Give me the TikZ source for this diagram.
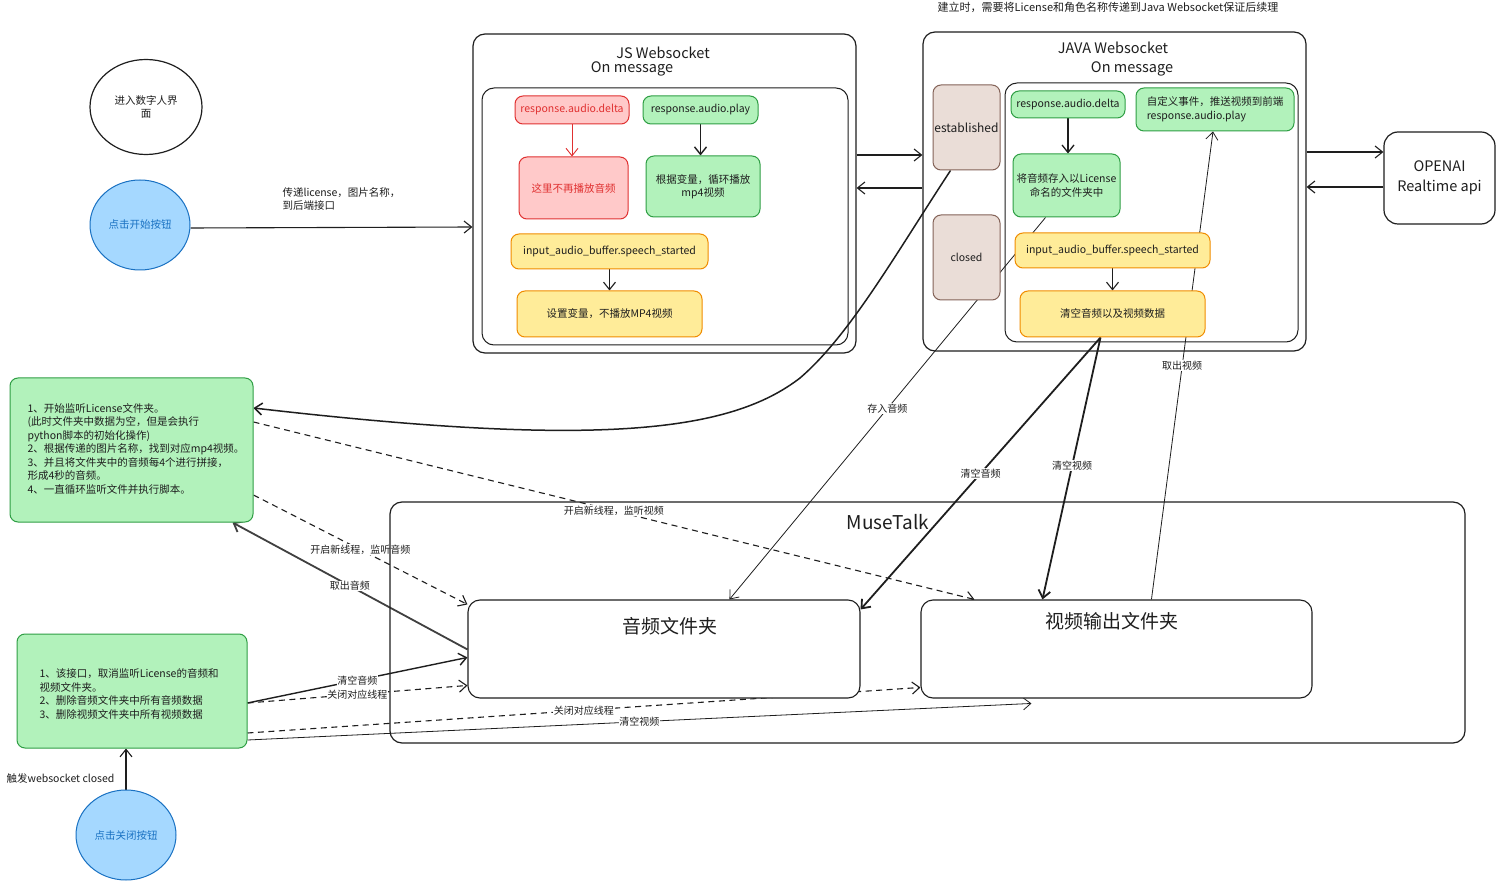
\documentclass[tikz,border=0pt]{standalone}
\usepackage{fontspec}
\setmainfont{Noto Sans CJK SC}
\usetikzlibrary{arrows.meta,shapes.geometric,calc}
\pgfdeclarelayer{bg}
\pgfdeclarelayer{paper}
\pgfsetlayers{paper,bg,main}
\definecolor{cInk}{HTML}{1E1E1E}
\definecolor{cRedS}{HTML}{E03131}
\definecolor{cRedF}{HTML}{FFC9C9}
\definecolor{cGrS}{HTML}{2F9E44}
\definecolor{cGrF}{HTML}{B2F2BB}
\definecolor{cYeS}{HTML}{F08C00}
\definecolor{cYeF}{HTML}{FFEC99}
\definecolor{cBrS}{HTML}{846358}
\definecolor{cBrF}{HTML}{EADDD7}
\definecolor{cBlS}{HTML}{1971C2}
\definecolor{cBlF}{HTML}{A5D8FF}
\begin{document}
\begin{tikzpicture}[x=1pt,y=-1pt,
  every node/.style={text=cInk, font=\fontsize{10.5}{13.5}\selectfont},
  box/.style={draw, rounded corners=8pt, line width=1pt, align=center, inner sep=2pt},
  redbox/.style={box, draw=cRedS, fill=cRedF, text=cRedS},
  greenbox/.style={box, draw=cGrS, fill=cGrF},
  yelbox/.style={box, draw=cYeS, fill=cYeF},
  brownbox/.style={box, draw=cBrS, fill=cBrF, font=\fontsize{12}{14}\selectfont},
  bluecirc/.style={ellipse, draw=cBlS, fill=cBlF, text=cBlS, line width=1pt, inner sep=0pt},
  frame/.style={draw=cInk, rounded corners=12pt, line width=1.2pt, inner sep=0pt},
  titletxt/.style={font=\fontsize{14.5}{16}\selectfont},
  bigtitle/.style={font=\fontsize{19}{21}\selectfont},
  conn/.style={draw=cInk, line width=1.1pt, -{Straight Barb[length=7.5pt,width=12pt]}},
  thickconn/.style={conn, line width=1.8pt},
  thinconn/.style={conn, line width=0.8pt},
  dashline/.style={dash pattern=on 6pt off 4.5pt},
  lbl/.style={fill=white, inner sep=0.8pt, font=\fontsize{10}{11}\selectfont}
]
\begin{pgfonlayer}{paper}
\fill[white] (0,0) rectangle (1505,890);
\end{pgfonlayer}
\useasboundingbox (0,0) rectangle (1505,890);

% caption
\node[font=\fontsize{11}{13}\selectfont] (cap) at (1108,7) {建立时，需要将License和角色名称传递到Java Websocket保证后续理};

% left ellipses
\node[ellipse, draw=cInk, line width=1.2pt, minimum width=112, minimum height=95, align=center, inner sep=0pt] (enter) at (146,107) {进入数字人界\\面};
\node[bluecirc, minimum width=100, minimum height=90] (start) at (140,225) {点击开始按钮};
\node[bluecirc, minimum width=100, minimum height=90] (close) at (126,835) {点击关闭按钮};
\node[align=left, anchor=west] (passlbl) at (279,199) {传递license，图片名称，\\到后端接口};

% JS Websocket
\node[frame, minimum width=383, minimum height=319] (js) at (664.5,193.5) {};
\node[titletxt] (jst) at (663,53) {JS Websocket};
\node[titletxt] (jsm) at (632,69) {On message};
\node[frame, line width=1pt, minimum width=366, minimum height=257] (jsin) at (665,216.5) {};
\node[redbox, minimum width=114, minimum height=28] (jd) at (572,110) {response.audio.delta};
\node[redbox, minimum width=109, minimum height=62] (jn) at (573.5,188) {这里不再播放音频};
\node[greenbox, minimum width=115, minimum height=28] (jp) at (700.5,110) {response.audio.play};
\node[greenbox, minimum width=114, minimum height=61] (jv) at (703,186.5) {根据变量，循环播放\\mp4视频};
\node[yelbox, minimum width=197, minimum height=35] (ji) at (609.5,251.5) {input\_audio\_buffer.speech\_started};
\node[yelbox, minimum width=185, minimum height=46] (jset) at (609.5,314) {设置变量，不播放MP4视频};

% JAVA Websocket
\node[frame, minimum width=383, minimum height=319] (java) at (1114.5,191.5) {};
\node[titletxt] (jvt) at (1113,48) {JAVA Websocket};
\node[titletxt] (jvm) at (1132,69) {On message};
\node[frame, line width=1pt, minimum width=293, minimum height=259] (javain) at (1151.5,212.5) {};
\node[brownbox, minimum width=67, minimum height=85, inner sep=0pt] (est) at (966.5,127.5) {established};
\node[brownbox, minimum width=67, minimum height=85, font=\fontsize{10.5}{13}\selectfont] (clo) at (966.5,257.5) {closed};
\node[greenbox, minimum width=114, minimum height=27] (kd) at (1068,104.5) {response.audio.delta};
\node[greenbox, minimum width=158, minimum height=43, align=left] (kc) at (1215,109.5) {自定义事件，推送视频到前端\\response.audio.play};
\node[greenbox, minimum width=107, minimum height=63] (ks) at (1066.5,185.5) {将音频存入以License\\命名的文件夹中};
\node[yelbox, minimum width=195, minimum height=35] (ki) at (1112.5,250.5) {input\_audio\_buffer.speech\_started};
\node[yelbox, minimum width=185, minimum height=46] (kq) at (1112.5,314) {清空音频以及视频数据};

% OPENAI
\node[box, draw=cInk, line width=1.2pt, rounded corners=14pt, minimum width=111, minimum height=92, font=\fontsize{14.5}{20}\selectfont] (oa) at (1439.5,178) {OPENAI\\Realtime api};

% left green boxes
\node[greenbox, minimum width=243, minimum height=144] (lg) at (131.5,450) {};
\node[align=left, anchor=west] (lgt) at (24,449) {1、开始监听License文件夹。\\(此时文件夹中数据为空，但是会执行\\python脚本的初始化操作)\\2、根据传递的图片名称，找到对应mp4视频。\\3、并且将文件夹中的音频每4个进行拼接，\\形成4秒的音频。\\4、一直循环监听文件并执行脚本。};
\node[greenbox, minimum width=230, minimum height=114] (lb) at (132,691) {};
\node[align=left, anchor=west] (lbt) at (36,694) {1、该接口，取消监听License的音频和\\视频文件夹。\\2、删除音频文件夹中所有音频数据\\3、删除视频文件夹中所有视频数据};

% MuseTalk
\node[frame, minimum width=1075, minimum height=241] (mt) at (927.5,622.5) {};
\node[font=\fontsize{19}{21}\selectfont] (mtt) at (888,522) {MuseTalk};
\node[frame, fill=white, line width=1.1pt, minimum width=392, minimum height=98] (af) at (664,649) {};
\node[bigtitle] (aft) at (670,626) {音频文件夹};
\node[frame, fill=white, line width=1.1pt, minimum width=391, minimum height=98] (vf) at (1116.5,649) {};
\node[bigtitle] (vft) at (1112,621) {视频输出文件夹};

\node[anchor=east] (trig) at (118,779) {触发websocket closed};

\begin{pgfonlayer}{bg}
% start -> JS
\draw[conn] ([yshift=-3pt]start.east) -- (js.west |- 0,227);
% JS <-> JAVA
\draw[conn] (js.east |- 0,155) -- (java.west |- 0,155);
\draw[conn] (java.west |- 0,188) -- (js.east |- 0,188);
% JAVA <-> OPENAI
\draw[conn] (java.east |- 0,152) -- (oa.west |- 0,152);
\draw[conn] (oa.west |- 0,187) -- (java.east |- 0,187);
% inner arrows
\draw[conn, draw=cRedS, line width=0.9pt] (jd.south) -- (jd.south |- jn.north);
\draw[conn, line width=1.4pt] (jp.south) -- (jp.south |- jv.north);
\draw[conn] (ji.south) -- (ji.south |- jset.north);
\draw[conn, line width=1.3pt] (kd.south) -- (kd.south |- ks.north);
\draw[conn] (ki.south) -- (ki.south |- kq.north);
% established -> left green box
\draw[conn, line width=1.5pt] ([xshift=-16pt]est.south) .. controls (895,255) and (850,335) .. (800,378) .. controls (730,432) and (600,448) .. (lg.east |- 0,408);
% store audio
\draw[thinconn] ([xshift=-21pt]ks.south) -- ([xshift=262pt]af.north west) node[lbl, pos=0.5] {存入音频};
% clear audio / video
\draw[thickconn] ([xshift=-12pt]kq.south) -- ([yshift=-10pt]af.north east) node[lbl, pos=0.5] {清空音频};
\draw[thickconn] ([xshift=-12pt]kq.south) -- ([xshift=122pt]vf.north west) node[lbl, pos=0.49] {清空视频};
% take video
\draw[thinconn] ([xshift=231pt]vf.north west) -- ([xshift=-2pt]kc.south) node[lbl, pos=0.5] {取出视频};
% left green box threads
\draw[conn, dashline] ([yshift=28pt]lg.east) -- ([xshift=54pt]vf.north west) node[lbl, pos=0.5] {开启新线程，监听视频};
\draw[conn, dashline] ([yshift=-45pt]lg.east) -- ([yshift=-5pt]af.north west) node[lbl, pos=0.5] {开启新线程，监听音频};
\draw[thickconn, draw=cInk!85] ([yshift=-50pt]af.north west) -- ([xshift=-21pt]lg.south east) node[lbl, pos=0.5] {取出音频};
% bottom green box
\draw[conn, line width=1.4pt] ([yshift=-12pt]lb.east) -- ([yshift=-58pt]af.north west) node[lbl, pos=0.5] {清空音频};
\draw[conn, dashline] ([yshift=-12pt]lb.east) -- ([yshift=-86pt]af.north west) node[lbl, pos=0.5] {关闭对应线程};
\draw[conn, dashline] ([yshift=-42pt]lb.east) -- ([yshift=-88pt]vf.north west) node[lbl, pos=0.5] {关闭对应线程};
\draw[thinconn] ([yshift=-49pt]lb.east) -- ([xshift=111pt, yshift=-104pt]vf.north west) node[lbl, pos=0.5] {清空视频};
% close button
\draw[conn] (close.north) -- (close.north |- lb.south);
\end{pgfonlayer}
\end{tikzpicture}
\end{document}
